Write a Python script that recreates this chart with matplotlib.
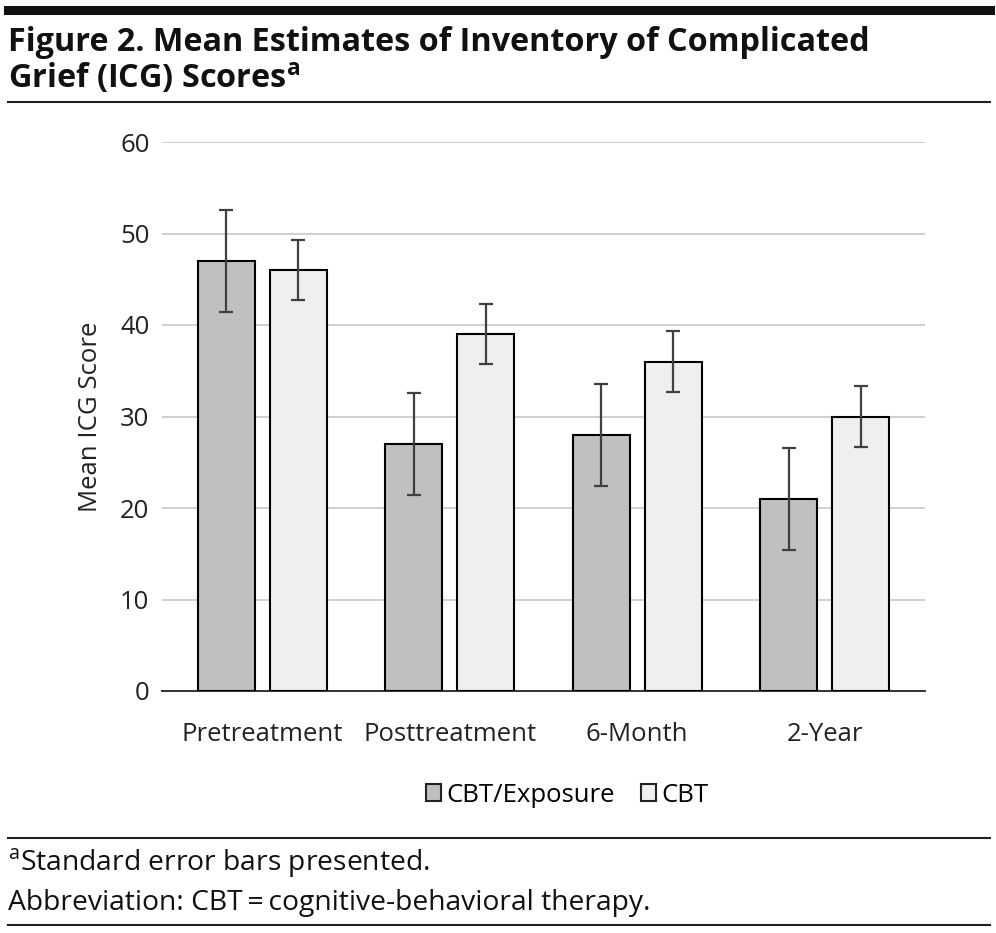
import matplotlib
matplotlib.use("Agg")
import matplotlib.pyplot as plt
from matplotlib.patches import Patch
from matplotlib.lines import Line2D
import numpy as np

categories = ["Pretreatment", "Posttreatment", "6-Month", "2-Year"]
series_names = ["CBT/Exposure", "CBT"]
exposure_means = [47, 27, 28, 21]
exposure_se = [5.6, 5.6, 5.6, 5.6]
cbt_means = [46, 39, 36, 30]
cbt_se = [3.3, 3.3, 3.3, 3.3]
y_ticks = [0, 10, 20, 30, 40, 50, 60]

title_lines = ["Figure 2. Mean Estimates of Inventory of Complicated",
               "Grief (ICG) Scores$^{\\mathregular{a}}$"]
foot1 = "Standard error bars presented."
foot2 = "Abbreviation: CBT\u2009=\u2009cognitive-behavioral therapy."

W, H = 996, 933
fig = plt.figure(figsize=(W / 100, H / 100), dpi=100)

def fx(x): return x / W
def fy(y): return 1 - y / H

plt.rcParams['font.family'] = ['Open Sans', 'DejaVu Sans']
fs = 18.5

ax = fig.add_axes([fx(162), fy(691), fx(925) - fx(162), fy(142) - fy(691)])
x = np.arange(len(categories))
bw = 0.304
off = 0.192
ax.bar(x - off, exposure_means, bw, color='#c0c0c0', edgecolor='black', linewidth=1.5, zorder=3)
ax.bar(x + off, cbt_means, bw, color='#efefef', edgecolor='black', linewidth=1.5, zorder=3)
ax.errorbar(x - off, exposure_means, yerr=exposure_se, fmt='none', ecolor='#404040',
            elinewidth=1.6, capsize=5, capthick=1.6, zorder=4)
ax.errorbar(x + off, cbt_means, yerr=cbt_se, fmt='none', ecolor='#404040',
            elinewidth=1.6, capsize=5, capthick=1.6, zorder=4)
ax.set_xlim(-0.535, 3.535)
ax.set_ylim(0, 60)
ax.set_yticks(y_ticks)
ax.set_yticklabels([str(v) for v in y_ticks], fontsize=fs, color='#222222')
ax.set_xticks(x)
ax.set_xticklabels(categories, fontsize=fs, color='#222222')
ax.tick_params(axis='y', length=0, pad=9)
ax.tick_params(axis='x', length=0, pad=22)
ax.yaxis.grid(True, color='#cfcfcf', linewidth=1.4, zorder=0)
ax.set_axisbelow(True)
for s in ['top', 'right', 'left']:
    ax.spines[s].set_visible(False)
ax.spines['bottom'].set_color('#333333')
ax.spines['bottom'].set_linewidth(1.4)
ax.set_ylabel("Mean ICG Score", fontsize=fs, color='#222222', labelpad=12)

handles = [Patch(facecolor='#c0c0c0', edgecolor='#222222', linewidth=1.5),
           Patch(facecolor='#efefef', edgecolor='#222222', linewidth=1.5)]
fig.legend(handles, series_names, loc='center', bbox_to_anchor=(fx(567), fy(795)),
           ncol=2, frameon=False, fontsize=fs, handlelength=0.6, handleheight=0.6,
           handletextpad=0.2, columnspacing=1.0)

# rules
fig.add_artist(Line2D([fx(8), fx(990)], [fy(9.5), fy(9.5)], color='#111111', linewidth=6.5))
fig.add_artist(Line2D([fx(8), fx(990)], [fy(102), fy(102)], color='#222222', linewidth=1.5))
fig.add_artist(Line2D([fx(8), fx(990)], [fy(838), fy(838)], color='#222222', linewidth=1.5))
fig.add_artist(Line2D([fx(8), fx(990)], [fy(925), fy(925)], color='#222222', linewidth=1.5))

fig.text(fx(8), fy(51), title_lines[0], fontsize=23.3, fontweight='bold',
         va='baseline', ha='left', color='#111111')
fig.text(fx(8), fy(88), title_lines[1], fontsize=23.3, fontweight='bold',
         va='baseline', ha='left', color='#111111')

fig.text(fx(8), fy(870), "$^{\\mathregular{a}}$" + foot1, fontsize=20.3,
         va='baseline', ha='left', color='#111111')
fig.text(fx(8), fy(910), foot2, fontsize=20.3,
         va='baseline', ha='left', color='#111111')

fig.savefig("out.png", dpi=100)
